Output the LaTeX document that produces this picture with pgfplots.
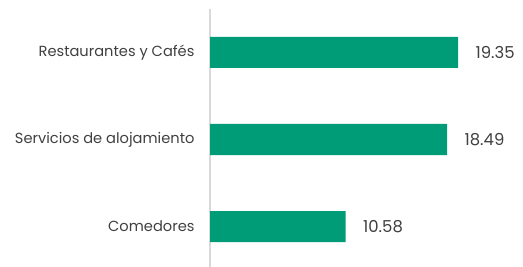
\documentclass[border=0pt]{standalone}
\usepackage{fontspec}
\setmainfont{Poppins}
\usepackage{pgfplots}
\pgfplotsset{compat=1.18}
\definecolor{bargreen}{HTML}{009B77}
\definecolor{txtgray}{HTML}{404040}
\definecolor{axgray}{HTML}{D9D9D9}
\begin{document}
\begin{tikzpicture}[x=1bp,y=1bp]
\begin{axis}[
  name=ax,
  at={(210bp,0bp)}, anchor=south west,
  scale only axis,
  width=307.7bp, height=258bp,
  xmin=0, xmax=24,
  ymin=-0.4655, ymax=2.5,
  xbar, bar width=31bp,
  axis x line=none,
  axis y line*=left,
  y axis line style={axgray, line width=1.5bp, -},
  ytick={0,1,2},
  yticklabels={Comedores, Servicios de alojamiento, Restaurantes y Cafés},
  major tick length=0pt,
  yticklabel style={font=\fontsize{14.7}{16}\selectfont, text=txtgray, xshift=-12bp},
  nodes near coords,
  nodes near coords style={font=\fontsize{16.5}{18}\selectfont, text=txtgray, anchor=west, xshift=14bp},
  point meta=explicit symbolic,
  clip=false,
]
\addplot[fill=bargreen, draw=none] coordinates {(10.58,0)[10.58] (18.49,1)[18.49] (19.35,2)[19.35]};
\end{axis}
\pgfresetboundingbox
\path (0,0) rectangle (523bp,267bp);
\end{tikzpicture}
\end{document}
